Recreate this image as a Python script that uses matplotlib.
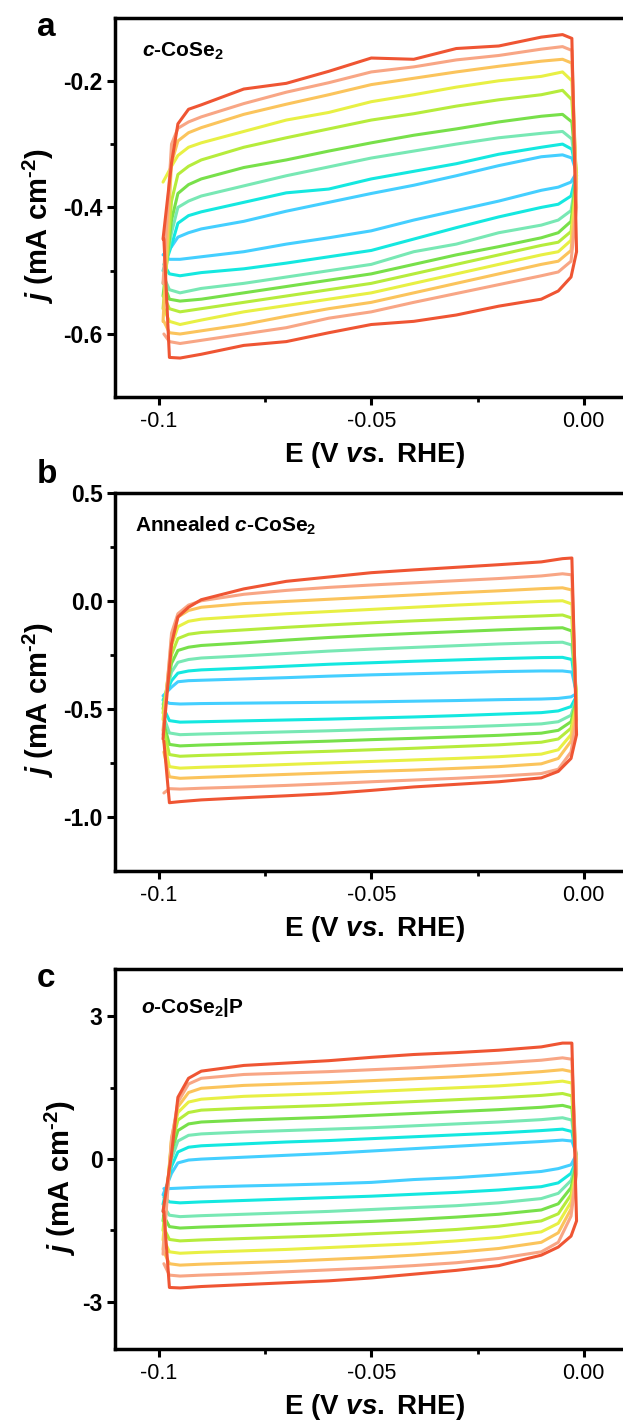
import numpy as np
import matplotlib.pyplot as plt

plt.rcParams['font.family'] = ['Liberation Sans', 'DejaVu Sans']
plt.rcParams['mathtext.fontset'] = 'custom'
plt.rcParams['mathtext.rm'] = 'Liberation Sans:bold'
plt.rcParams['mathtext.it'] = 'Liberation Sans:italic:bold'
plt.rcParams['mathtext.bf'] = 'Liberation Sans:bold'
plt.rcParams['axes.unicode_minus'] = False

# potentials (V vs RHE) of the read points: anodic sweep, then cathodic sweep
E_UP = [-0.099, -0.097, -0.0955, -0.093, -0.09, -0.08, -0.07, -0.06, -0.05,
        -0.04, -0.03, -0.02, -0.01, -0.005, -0.0028]
E_LO = [-0.0017, -0.003, -0.006, -0.01, -0.02, -0.03, -0.04, -0.05, -0.06,
        -0.07, -0.08, -0.09, -0.095, -0.0975, -0.0988]

# curve colours, outermost (fastest scan) to innermost
COLORS = ['#ef5533', '#f8a685', '#fbc45c', '#e8f044', '#b6ec3c',
          '#78e04a', '#78e8b4', '#14e8e0', '#44cfff']

# panel a: c-CoSe2, current density (mA cm-2)
A_UP = [
    [-0.450, -0.330, -0.268, -0.245, -0.238, -0.213, -0.204, -0.185, -0.164, -0.166, -0.149, -0.145, -0.131, -0.127, -0.133],
    [-0.520, -0.300, -0.275, -0.265, -0.257, -0.236, -0.218, -0.203, -0.186, -0.178, -0.167, -0.160, -0.150, -0.146, -0.152],
    [-0.580, -0.330, -0.295, -0.282, -0.274, -0.253, -0.237, -0.222, -0.206, -0.196, -0.186, -0.177, -0.169, -0.166, -0.172],
    [-0.360, -0.335, -0.318, -0.305, -0.298, -0.280, -0.262, -0.250, -0.233, -0.222, -0.210, -0.200, -0.193, -0.186, -0.200],
    [-0.560, -0.390, -0.348, -0.335, -0.325, -0.305, -0.290, -0.276, -0.262, -0.252, -0.240, -0.230, -0.222, -0.215, -0.230],
    [-0.540, -0.420, -0.378, -0.364, -0.355, -0.337, -0.325, -0.311, -0.298, -0.286, -0.276, -0.265, -0.256, -0.253, -0.265],
    [-0.520, -0.440, -0.400, -0.390, -0.382, -0.366, -0.350, -0.336, -0.322, -0.311, -0.300, -0.290, -0.283, -0.280, -0.292],
    [-0.500, -0.460, -0.425, -0.413, -0.407, -0.392, -0.377, -0.371, -0.355, -0.343, -0.331, -0.316, -0.305, -0.300, -0.308],
    [-0.475, -0.462, -0.447, -0.440, -0.434, -0.422, -0.406, -0.392, -0.378, -0.365, -0.350, -0.334, -0.320, -0.317, -0.322],
]
A_LO = [
    [-0.470, -0.510, -0.532, -0.545, -0.556, -0.570, -0.580, -0.585, -0.598, -0.612, -0.618, -0.632, -0.638, -0.637, -0.450],
    [-0.400, -0.485, -0.502, -0.508, -0.522, -0.536, -0.550, -0.565, -0.575, -0.590, -0.600, -0.610, -0.615, -0.612, -0.600],
    [-0.370, -0.468, -0.485, -0.490, -0.505, -0.520, -0.535, -0.550, -0.560, -0.572, -0.585, -0.595, -0.600, -0.598, -0.580],
    [-0.360, -0.452, -0.470, -0.475, -0.490, -0.505, -0.520, -0.535, -0.545, -0.555, -0.565, -0.578, -0.585, -0.580, -0.560],
    [-0.355, -0.438, -0.455, -0.460, -0.475, -0.490, -0.505, -0.520, -0.530, -0.540, -0.550, -0.560, -0.565, -0.560, -0.540],
    [-0.350, -0.422, -0.440, -0.448, -0.462, -0.475, -0.490, -0.505, -0.515, -0.525, -0.535, -0.545, -0.548, -0.545, -0.520],
    [-0.350, -0.405, -0.420, -0.428, -0.440, -0.458, -0.470, -0.490, -0.500, -0.510, -0.520, -0.528, -0.535, -0.530, -0.510],
    [-0.345, -0.382, -0.395, -0.400, -0.415, -0.432, -0.450, -0.468, -0.478, -0.488, -0.497, -0.503, -0.508, -0.505, -0.490],
    [-0.345, -0.360, -0.368, -0.373, -0.390, -0.405, -0.420, -0.437, -0.448, -0.458, -0.470, -0.478, -0.482, -0.482, -0.475],
]

# panel b: annealed c-CoSe2
B_UP = [
    [-0.640, -0.200, -0.075, -0.030, 0.005, 0.055, 0.090, 0.110, 0.130, 0.143, 0.155, 0.167, 0.180, 0.195, 0.198],
    [-0.620, -0.150, -0.060, -0.020, 0.000, 0.030, 0.048, 0.062, 0.073, 0.083, 0.093, 0.103, 0.115, 0.125, 0.120],
    [-0.600, -0.170, -0.075, -0.045, -0.030, -0.013, -0.003, 0.007, 0.017, 0.027, 0.037, 0.046, 0.056, 0.060, 0.050],
    [-0.550, -0.210, -0.120, -0.095, -0.085, -0.072, -0.060, -0.050, -0.040, -0.030, -0.020, -0.011, -0.003, 0.000, -0.015],
    [-0.520, -0.250, -0.175, -0.155, -0.147, -0.135, -0.123, -0.112, -0.102, -0.093, -0.085, -0.077, -0.070, -0.066, -0.080],
    [-0.500, -0.290, -0.230, -0.215, -0.207, -0.195, -0.182, -0.170, -0.160, -0.151, -0.143, -0.135, -0.128, -0.125, -0.140],
    [-0.480, -0.330, -0.285, -0.272, -0.265, -0.255, -0.244, -0.233, -0.224, -0.216, -0.208, -0.200, -0.194, -0.192, -0.205],
    [-0.460, -0.370, -0.335, -0.325, -0.320, -0.312, -0.303, -0.294, -0.287, -0.280, -0.274, -0.268, -0.263, -0.262, -0.272],
    [-0.440, -0.400, -0.375, -0.370, -0.368, -0.362, -0.356, -0.349, -0.343, -0.338, -0.333, -0.328, -0.325, -0.325, -0.330],
]
B_LO = [
    [-0.620, -0.730, -0.790, -0.820, -0.838, -0.850, -0.862, -0.878, -0.893, -0.903, -0.912, -0.922, -0.930, -0.935, -0.650],
    [-0.550, -0.700, -0.780, -0.800, -0.812, -0.822, -0.830, -0.838, -0.847, -0.855, -0.862, -0.868, -0.872, -0.870, -0.890],
    [-0.500, -0.650, -0.730, -0.755, -0.768, -0.776, -0.784, -0.790, -0.797, -0.804, -0.811, -0.818, -0.822, -0.815, -0.700],
    [-0.480, -0.620, -0.690, -0.710, -0.722, -0.730, -0.737, -0.744, -0.751, -0.758, -0.765, -0.771, -0.775, -0.768, -0.650],
    [-0.470, -0.590, -0.640, -0.655, -0.667, -0.675, -0.683, -0.690, -0.697, -0.703, -0.710, -0.716, -0.720, -0.712, -0.600],
    [-0.460, -0.560, -0.600, -0.613, -0.623, -0.630, -0.637, -0.643, -0.650, -0.656, -0.662, -0.668, -0.672, -0.665, -0.570],
    [-0.450, -0.530, -0.560, -0.570, -0.578, -0.585, -0.590, -0.596, -0.602, -0.607, -0.612, -0.617, -0.620, -0.612, -0.540],
    [-0.440, -0.490, -0.510, -0.518, -0.525, -0.532, -0.538, -0.543, -0.548, -0.552, -0.556, -0.560, -0.562, -0.555, -0.500],
    [-0.430, -0.445, -0.452, -0.455, -0.458, -0.462, -0.465, -0.468, -0.470, -0.472, -0.474, -0.476, -0.478, -0.475, -0.460],
]

# panel c: o-CoSe2|P
C_UP = [
    [-1.10, 0.10, 1.30, 1.70, 1.85, 1.97, 2.02, 2.07, 2.14, 2.20, 2.24, 2.29, 2.36, 2.44, 2.44],
    [-2.00, 0.40, 1.20, 1.58, 1.70, 1.78, 1.81, 1.84, 1.88, 1.92, 1.97, 2.02, 2.08, 2.13, 2.10],
    [-1.90, 0.45, 1.10, 1.40, 1.49, 1.55, 1.58, 1.61, 1.65, 1.69, 1.73, 1.78, 1.84, 1.88, 1.84],
    [-1.70, 0.40, 0.98, 1.20, 1.26, 1.32, 1.35, 1.38, 1.42, 1.46, 1.50, 1.54, 1.60, 1.64, 1.60],
    [-1.50, 0.30, 0.82, 0.98, 1.03, 1.07, 1.10, 1.13, 1.17, 1.21, 1.25, 1.29, 1.34, 1.38, 1.33],
    [-1.30, 0.15, 0.60, 0.74, 0.78, 0.82, 0.85, 0.88, 0.92, 0.96, 1.00, 1.04, 1.09, 1.13, 1.08],
    [-1.10, 0.00, 0.38, 0.50, 0.53, 0.57, 0.60, 0.63, 0.66, 0.70, 0.74, 0.78, 0.83, 0.87, 0.82],
    [-0.95, -0.15, 0.15, 0.25, 0.28, 0.32, 0.36, 0.39, 0.43, 0.47, 0.51, 0.55, 0.60, 0.63, 0.58],
    [-0.75, -0.30, -0.08, -0.02, 0.00, 0.04, 0.08, 0.12, 0.17, 0.22, 0.27, 0.32, 0.37, 0.40, 0.38],
]
C_LO = [
    [-1.30, -1.62, -1.85, -2.02, -2.24, -2.34, -2.42, -2.50, -2.56, -2.60, -2.64, -2.68, -2.71, -2.70, -1.10],
    [-0.30, -1.20, -1.75, -1.95, -2.09, -2.18, -2.24, -2.29, -2.33, -2.37, -2.41, -2.44, -2.46, -2.44, -2.20],
    [-0.25, -1.05, -1.55, -1.75, -1.88, -1.96, -2.02, -2.07, -2.11, -2.15, -2.18, -2.21, -2.23, -2.20, -1.95],
    [-0.20, -0.90, -1.35, -1.53, -1.65, -1.72, -1.78, -1.82, -1.86, -1.90, -1.93, -1.96, -1.98, -1.95, -1.70],
    [-0.15, -0.75, -1.15, -1.30, -1.41, -1.48, -1.53, -1.57, -1.61, -1.64, -1.67, -1.70, -1.72, -1.69, -1.45],
    [-0.10, -0.60, -0.94, -1.07, -1.16, -1.22, -1.27, -1.31, -1.34, -1.37, -1.40, -1.43, -1.45, -1.42, -1.20],
    [-0.05, -0.45, -0.72, -0.83, -0.92, -0.98, -1.02, -1.06, -1.10, -1.13, -1.16, -1.19, -1.21, -1.18, -1.00],
    [0.00, -0.30, -0.50, -0.58, -0.65, -0.70, -0.74, -0.78, -0.81, -0.84, -0.87, -0.90, -0.92, -0.90, -0.80],
    [0.10, -0.12, -0.20, -0.26, -0.33, -0.39, -0.43, -0.49, -0.52, -0.545, -0.565, -0.59, -0.61, -0.62, -0.62],
]

LETTERS = ['a', 'b', 'c']
SAMPLES = [r'$\it{c}$-CoSe$_2$', r'Annealed $\it{c}$-CoSe$_2$', r'$\it{o}$-CoSe$_2$|P']
UPPERS = [A_UP, B_UP, C_UP]
LOWERS = [A_LO, B_LO, C_LO]
YLIMS = [(-0.7, -0.1), (-1.25, 0.5), (-4, 4)]
YTICKS = [[-0.2, -0.4, -0.6], [0.5, 0.0, -0.5, -1.0], [3, 0, -3]]
YTICKLABELS = [['-0.2', '-0.4', '-0.6'], ['0.5', '0.0', '-0.5', '-1.0'], ['3', '0', '-3']]
YMINOR = [[-0.3, -0.5], [0.25, -0.25, -0.75], [1.5, -1.5]]
XTICKS = [-0.1, -0.05, 0.0]
XTICKLABELS = ['-0.1', '-0.05', '0.00']
XMINOR = [-0.075, -0.025]

fig = plt.figure(figsize=(6.23, 14.23), dpi=100)

# axes boxes in figure fractions (right side runs past the image edge)
boxes = [[0.1846, 0.7208, 0.8343, 0.2669],
         [0.1846, 0.3881, 0.8343, 0.2656],
         [0.1846, 0.0518, 0.8343, 0.2673]]
letter_y = [36, 483, 987]
note_xy = [(0.052, 0.896), (0.0385, 0.896), (0.05, 0.884)]
ylabel_x = [-0.148, -0.148, -0.106]
ylab = r'$\it{j}$ (mA cm$^{' + '\u2010' + r'2}$)'

for p in range(3):
    ax = fig.add_axes(boxes[p])
    up, lo = UPPERS[p], LOWERS[p]
    for k in range(len(COLORS) - 1, -1, -1):
        E = E_UP + E_LO
        j = up[k] + lo[k]
        ax.plot(E, j, color=COLORS[k], lw=2.2, solid_joinstyle='round',
                solid_capstyle='round')

    ax.set_xlim(-0.1103, 0.012)
    ax.set_ylim(*YLIMS[p])
    ax.set_xticks(XTICKS, XTICKLABELS)
    ax.set_xticks(XMINOR, minor=True)
    ax.set_yticks(YTICKS[p], YTICKLABELS[p])
    ax.set_yticks(YMINOR[p], minor=True)

    for s in ax.spines.values():
        s.set_linewidth(2.5)
    ax.tick_params(which='major', direction='out', length=6, width=2.2)
    ax.tick_params(which='minor', direction='out', length=3.5, width=2)
    ax.tick_params(axis='x', which='major', labelsize=15.5, pad=4)
    ax.tick_params(axis='y', which='major', labelsize=16.5, pad=3)
    for lab in ax.get_yticklabels():
        lab.set_fontweight('bold')

    ax.set_xlabel(r'E (V $\it{vs.}$ RHE)', fontsize=20, fontweight='bold', va='center')
    ax.xaxis.set_label_coords(0.5, -0.153)
    ax.set_ylabel(ylab, fontsize=21, fontweight='bold', va='center')
    ax.yaxis.set_label_coords(ylabel_x[p], 0.45)

    ax.text(note_xy[p][0], note_xy[p][1], SAMPLES[p], transform=ax.transAxes,
            fontsize=15, fontweight='bold', ha='left', va='baseline')
    fig.text(37 / 623, 1 - letter_y[p] / 1423, LETTERS[p], fontsize=24,
             fontweight='bold', ha='left', va='baseline')

fig.savefig('out.png', dpi=100)
